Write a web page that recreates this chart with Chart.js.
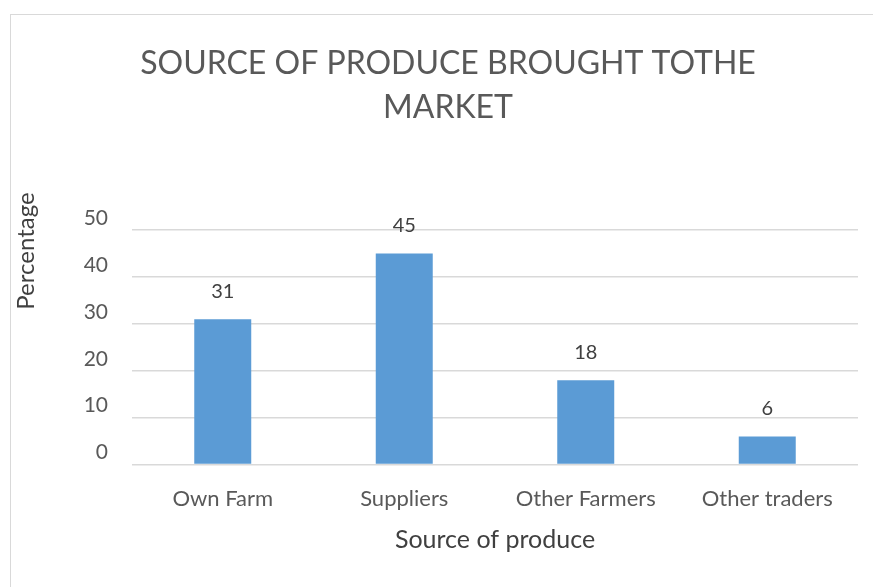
<!DOCTYPE html>
<html>
<head>
<meta charset="utf-8">
<script src="https://cdn.jsdelivr.net/npm/chart.js@4/dist/chart.umd.min.js"></script>
<style>
  html, body { margin:0; padding:0; background:#fff; }
  #wrap { position:relative; width:873px; height:587px; overflow:hidden; }
  #frame { position:absolute; left:10px; top:14px; width:900px; height:600px;
           border-left:1.5px solid #d9d9d9; border-top:1.5px solid #d9d9d9; }
  #wrap canvas { position:absolute; left:0; top:0; }
</style>
</head>
<body>
<div id="wrap">
  <div id="frame"></div>
  <canvas id="chart" width="873" height="587"></canvas>
</div>
<script>
// ---- data ----
const categories = ['Own Farm', 'Suppliers', 'Other Farmers', 'Other traders'];
const percentages = [31, 45, 18, 6];
const yTicks = [0, 10, 20, 30, 40, 50];

const FONT = "Lato, 'Open Sans', sans-serif";
const TEXT = '#595959';

// value labels above each bar + rotated y title
const extras = {
  id: 'extras',
  afterDatasetsDraw(chart){
    const ctx = chart.ctx;
    const meta = chart.getDatasetMeta(0);
    ctx.save();
    ctx.font = '20px ' + FONT;
    ctx.fillStyle = '#404040';
    ctx.textAlign = 'center';
    ctx.textBaseline = 'middle';
    meta.data.forEach((bar, i)=>{
      ctx.fillText(String(percentages[i]), bar.x, bar.y - 28);
    });
    ctx.restore();
  },
  afterDraw(chart){
    const ctx = chart.ctx;
    ctx.save();
    ctx.font = '24px ' + FONT;
    ctx.fillStyle = '#404040';
    ctx.textAlign = 'center';
    ctx.textBaseline = 'middle';
    ctx.translate(26, 251);
    ctx.rotate(-Math.PI/2);
    ctx.fillText('Percentage', 0, 0);
    ctx.restore();
  }
};

new Chart(document.getElementById('chart'), {
  type: 'bar',
  data: {
    labels: categories,
    datasets: [{
      data: percentages,
      backgroundColor: '#5b9bd5',
      borderWidth: 0,
      categoryPercentage: 1,
      barPercentage: 0.314
    }]
  },
  options: {
    responsive: false,
    animation: false,
    layout: { padding: { left: 38, right: 15, top: 0, bottom: 32 } },
    plugins: {
      legend: { display: false },
      tooltip: { enabled: false },
      title: {
        display: true,
        text: ['SOURCE OF PRODUCE BROUGHT TOTHE', 'MARKET'],
        color: TEXT,
        font: { family: FONT, size: 32, weight: 'normal', lineHeight: 1.375 },
        padding: { top: 42, bottom: 100 }
      }
    },
    scales: {
      x: {
        grid: { display: false },
        border: { display: false },
        ticks: { color: TEXT, font: { family: FONT, size: 22 }, padding: 13 },
        title: {
          display: true,
          text: 'Source of produce',
          color: '#404040',
          font: { family: FONT, size: 25 },
          padding: { top: 0, bottom: 0 }
        }
      },
      y: {
        min: 0,
        max: 50,
        afterFit(scale){ scale.width = 94; },
        afterBuildTicks(scale){ scale.ticks = yTicks.map(v=>({ value: v })); },
        grid: { color: '#d9d9d9', lineWidth: 1.5, drawTicks: false },
        border: { display: false },
        ticks: { color: TEXT, font: { family: FONT, size: 21 }, padding: 24, labelOffset: -12 }
      }
    }
  },
  plugins: [extras]
});
</script>
</body>
</html>
